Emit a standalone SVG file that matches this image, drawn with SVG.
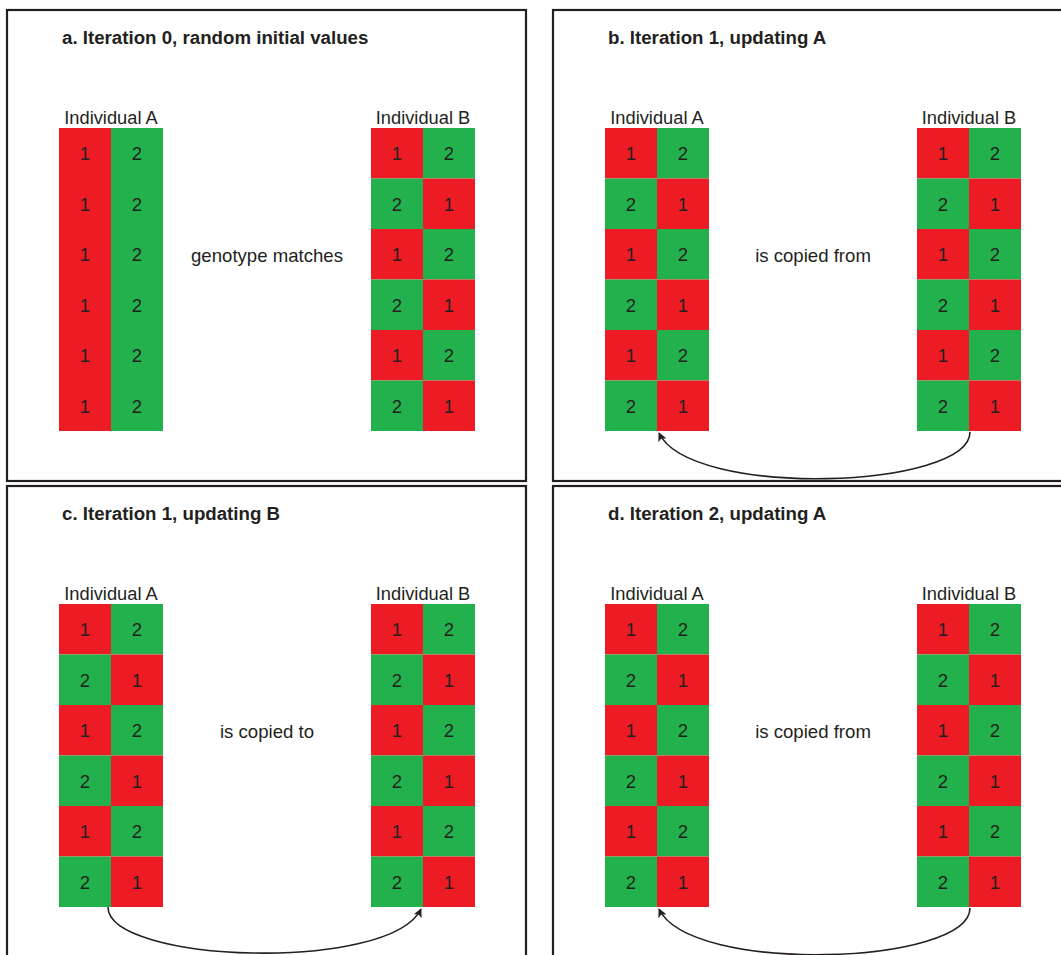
<svg xmlns="http://www.w3.org/2000/svg" width="1061" height="955" viewBox="0 0 1061 955">
<style>
.panel{fill:none;stroke:#231f20;stroke-width:2.2}
.r{fill:#ed1c24}
.g{fill:#22b14c}
.n{font-family:"Liberation Sans",Arial,sans-serif;font-size:18.5px;fill:#231f20;text-anchor:middle}
.lab{font-family:"Liberation Sans",Arial,sans-serif;font-size:18.3px;fill:#231f20;text-anchor:middle}
.title{font-family:"Liberation Sans",Arial,sans-serif;font-size:18.7px;font-weight:bold;fill:#231f20}
.mid{font-family:"Liberation Sans",Arial,sans-serif;font-size:18.6px;fill:#231f20;text-anchor:middle}
.arc{fill:none;stroke:#231f20;stroke-width:1.6;marker-end:url(#ah)}
</style>
<defs>
<marker id="ah" viewBox="0 0 10 10" refX="9" refY="5" markerWidth="9" markerHeight="9" markerUnits="userSpaceOnUse" orient="auto">
<path d="M0,0 L10,5 L0,10 L2.5,5 z" fill="#231f20"/>
</marker>
<g id="alt">
<rect class="r" x="0" y="0" width="52" height="50.5"/><rect class="g" x="52" y="0" width="52" height="50.5"/>
<text class="n" x="26" y="32">1</text><text class="n" x="78" y="32">2</text>
<rect class="g" x="0" y="50.5" width="52" height="50.5"/><rect class="r" x="52" y="50.5" width="52" height="50.5"/>
<text class="n" x="26" y="82.5">2</text><text class="n" x="78" y="82.5">1</text>
<rect class="r" x="0" y="101" width="52" height="50.5"/><rect class="g" x="52" y="101" width="52" height="50.5"/>
<text class="n" x="26" y="133">1</text><text class="n" x="78" y="133">2</text>
<rect class="g" x="0" y="151.5" width="52" height="50.5"/><rect class="r" x="52" y="151.5" width="52" height="50.5"/>
<text class="n" x="26" y="183.5">2</text><text class="n" x="78" y="183.5">1</text>
<rect class="r" x="0" y="202" width="52" height="50.5"/><rect class="g" x="52" y="202" width="52" height="50.5"/>
<text class="n" x="26" y="234">1</text><text class="n" x="78" y="234">2</text>
<rect class="g" x="0" y="252.5" width="52" height="50.5"/><rect class="r" x="52" y="252.5" width="52" height="50.5"/>
<text class="n" x="26" y="284.5">2</text><text class="n" x="78" y="284.5">1</text>
</g>
<g id="uni">
<rect class="r" x="0" y="0" width="52" height="303"/><rect class="g" x="52" y="0" width="52" height="303"/>
<text class="n" x="26" y="32">1</text><text class="n" x="78" y="32">2</text>
<text class="n" x="26" y="82.5">1</text><text class="n" x="78" y="82.5">2</text>
<text class="n" x="26" y="133">1</text><text class="n" x="78" y="133">2</text>
<text class="n" x="26" y="183.5">1</text><text class="n" x="78" y="183.5">2</text>
<text class="n" x="26" y="234">1</text><text class="n" x="78" y="234">2</text>
<text class="n" x="26" y="284.5">1</text><text class="n" x="78" y="284.5">2</text>
</g>
</defs>

<g id="panel-a">
<rect class="panel" x="7" y="10" width="519" height="471"/>
<text class="title" x="62" y="44">a. Iteration 0, random initial values</text>
<g id="a-indA"><text class="lab" x="111" y="124">Individual A</text><use href="#uni" x="59" y="128"/></g>
<g id="a-indB"><text class="lab" x="423" y="124">Individual B</text><use href="#alt" x="371" y="128"/></g>
<text class="mid" x="267" y="262">genotype matches</text>
</g>

<g id="panel-b">
<rect class="panel" x="553" y="10" width="530" height="471"/>
<text class="title" x="608" y="44">b. Iteration 1, updating A</text>
<g id="b-indA"><text class="lab" x="657" y="124">Individual A</text><use href="#alt" x="605" y="128"/></g>
<g id="b-indB"><text class="lab" x="969" y="124">Individual B</text><use href="#alt" x="917" y="128"/></g>
<text class="mid" x="813" y="262">is copied from</text>
</g>

<g id="panel-c">
<rect class="panel" x="7" y="486" width="519" height="480"/>
<text class="title" x="62" y="520">c. Iteration 1, updating B</text>
<g id="c-indA"><text class="lab" x="111" y="600">Individual A</text><use href="#alt" x="59" y="604"/></g>
<g id="c-indB"><text class="lab" x="423" y="600">Individual B</text><use href="#alt" x="371" y="604"/></g>
<text class="mid" x="267" y="738">is copied to</text>
</g>

<g id="panel-d">
<rect class="panel" x="553" y="486" width="530" height="480"/>
<text class="title" x="608" y="520">d. Iteration 2, updating A</text>
<g id="d-indA"><text class="lab" x="657" y="600">Individual A</text><use href="#alt" x="605" y="604"/></g>
<g id="d-indB"><text class="lab" x="969" y="600">Individual B</text><use href="#alt" x="917" y="604"/></g>
<text class="mid" x="813" y="738">is copied from</text>
</g>

<g id="connectors">
<path class="arc" d="M970,432 C970,489 690,499 659,433"/>
<path class="arc" d="M108,907 C108,963 390,973 421,909"/>
<path class="arc" d="M970,908 C970,965 690,975 659,909"/>
</g>
</svg>
